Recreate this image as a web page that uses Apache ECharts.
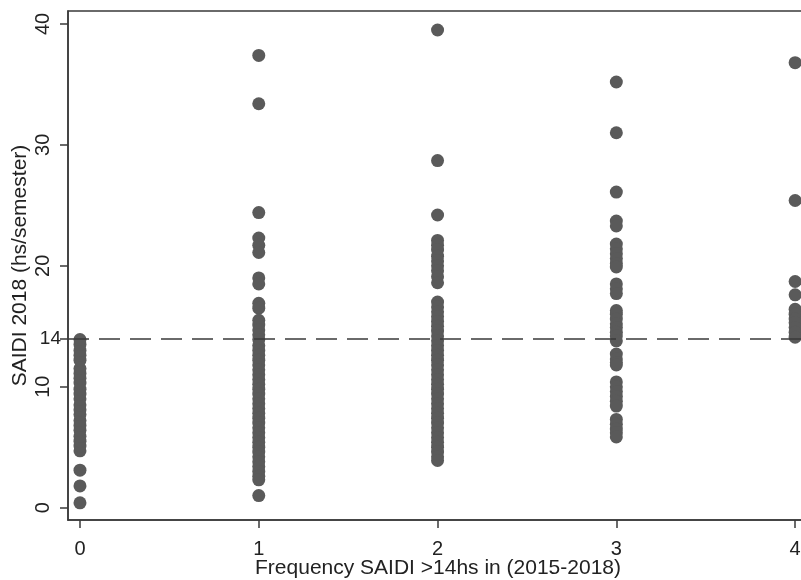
<!DOCTYPE html>
<html>
<head>
<meta charset="utf-8">
<script src="https://cdn.jsdelivr.net/npm/echarts@6/dist/echarts.min.js"></script>
<style>html,body{margin:0;padding:0;background:#fff}#c{width:801px;height:580px}</style>
</head>
<body>
<div id="c"></div>
<script>
// Frequency categories (x) and SAIDI 2018 values (y) for each
var freqs = [0, 1, 2, 3, 4];
var saidi0 = [0.4, 1.8, 3.1, 4.7, 5.1, 5.5, 5.9, 6.4, 6.8, 7.2, 7.7, 8.1, 8.5, 9.0, 9.4, 9.8, 10.3, 10.7, 11.1, 11.5, 12.2, 12.6, 13.0, 13.5, 13.9];
var saidi1 = [37.4, 33.4, 24.4, 22.3, 21.7, 21.1, 19.0, 18.5, 16.9, 16.5, 15.5, 15.1, 14.7, 14.3, 13.9, 13.4, 13.0, 12.6, 12.2, 11.8, 11.4, 11.0, 10.6, 10.2, 9.8, 9.4, 9.0, 8.6, 8.2, 7.8, 7.4, 7.0, 6.6, 6.2, 5.8, 5.4, 5.0, 4.6, 4.2, 3.8, 3.4, 3.0, 2.6, 2.3, 1.0];
var saidi2 = [39.5, 28.7, 24.2, 22.1, 21.7, 21.3, 20.8, 20.4, 20.0, 19.6, 19.1, 18.6, 17.0, 16.6, 16.2, 15.8, 15.4, 15.0, 14.6, 14.2, 13.8, 13.4, 13.0, 12.6, 12.2, 11.8, 11.4, 11.0, 10.6, 10.2, 9.8, 9.4, 9.0, 8.6, 8.2, 7.8, 7.4, 7.0, 6.6, 6.2, 5.8, 5.4, 5.0, 4.6, 4.2, 3.9];
var saidi3 = [35.2, 31.0, 26.1, 23.7, 23.3, 21.8, 21.4, 21.0, 20.6, 20.2, 19.9, 18.5, 18.1, 17.7, 16.3, 16.0, 15.6, 15.2, 14.9, 14.5, 14.2, 13.8, 12.7, 12.3, 12.0, 11.8, 10.4, 10.0, 9.6, 9.2, 8.8, 8.4, 7.3, 6.9, 6.5, 6.2, 5.85];
var saidi4 = [36.8, 25.4, 18.7, 17.6, 16.4, 16.0, 15.6, 15.3, 14.9, 14.5, 14.1];
var threshold = 14;
var yTicks = [0, 10, 20, 30, 40];
var xTicks = [0, 1, 2, 3, 4];

var columns = [saidi0, saidi1, saidi2, saidi3, saidi4];
var points = [];
columns.forEach(function (col, i) {
  col.forEach(function (v) { points.push([freqs[i], v]); });
});

var FONT = 'Liberation Sans, Arial, sans-serif';
var AX = '#3a3a3a';
var chart = echarts.init(document.getElementById('c'), null, {renderer: 'canvas'});
chart.setOption({
  animation: false,
  backgroundColor: '#ffffff',
  grid: {left: 68, top: 11, bottom: 60, width: 740, outerBoundsMode: 'none', containLabel: false,
         show: true, borderColor: AX, borderWidth: 1.5, backgroundColor: 'transparent'},
  xAxis: {
    type: 'value', min: -0.067, max: 4.072,
    name: 'Frequency SAIDI >14hs in (2015-2018)', nameLocation: 'middle', nameGap: 38, nameMoveOverlap: false,
    nameTextStyle: {fontFamily: FONT, fontSize: 21, color: '#222'},
    axisLine: {show: true, onZero: false, lineStyle: {color: AX, width: 1.5}},
    axisTick: {show: true, length: 8, customValues: xTicks, lineStyle: {color: AX, width: 1.5}},
    axisLabel: {customValues: xTicks, margin: 19, fontFamily: FONT, fontSize: 20, color: '#222'},
    splitLine: {show: false}
  },
  yAxis: [{
    type: 'value', min: -1.02, max: 41.07,
    name: 'SAIDI 2018 (hs/semester)', nameLocation: 'middle', nameGap: 37, nameMoveOverlap: false,
    nameTextStyle: {fontFamily: FONT, fontSize: 21, color: '#222'},
    axisLine: {show: true, onZero: false, lineStyle: {color: AX, width: 1.5}},
    axisTick: {show: true, length: 8, customValues: yTicks, lineStyle: {color: AX, width: 1.5}},
    axisLabel: {customValues: yTicks, rotate: 90, margin: 15, fontFamily: FONT, fontSize: 20, color: '#222'},
    splitLine: {show: false}
  }, {
    type: 'value', min: -1.02, max: 41.07, position: 'left',
    axisLine: {show: false, onZero: false},
    axisTick: {show: true, length: 8, customValues: [threshold], lineStyle: {color: AX, width: 1.5}},
    axisLabel: {customValues: [threshold], margin: 7, fontFamily: FONT, fontSize: 19, color: '#222'},
    splitLine: {show: false}
  }],
  series: [{
    type: 'scatter',
    data: points,
    symbol: 'circle',
    symbolSize: 13,
    itemStyle: {color: '#5a5a5a', opacity: 1},
    markLine: {
      silent: true, symbol: 'none', animation: false,
      label: {show: false},
      lineStyle: {color: '#3a3a3a', width: 1.6, type: [21, 10]},
      data: [{yAxis: threshold}]
    }
  }]
});
</script>
</body>
</html>
